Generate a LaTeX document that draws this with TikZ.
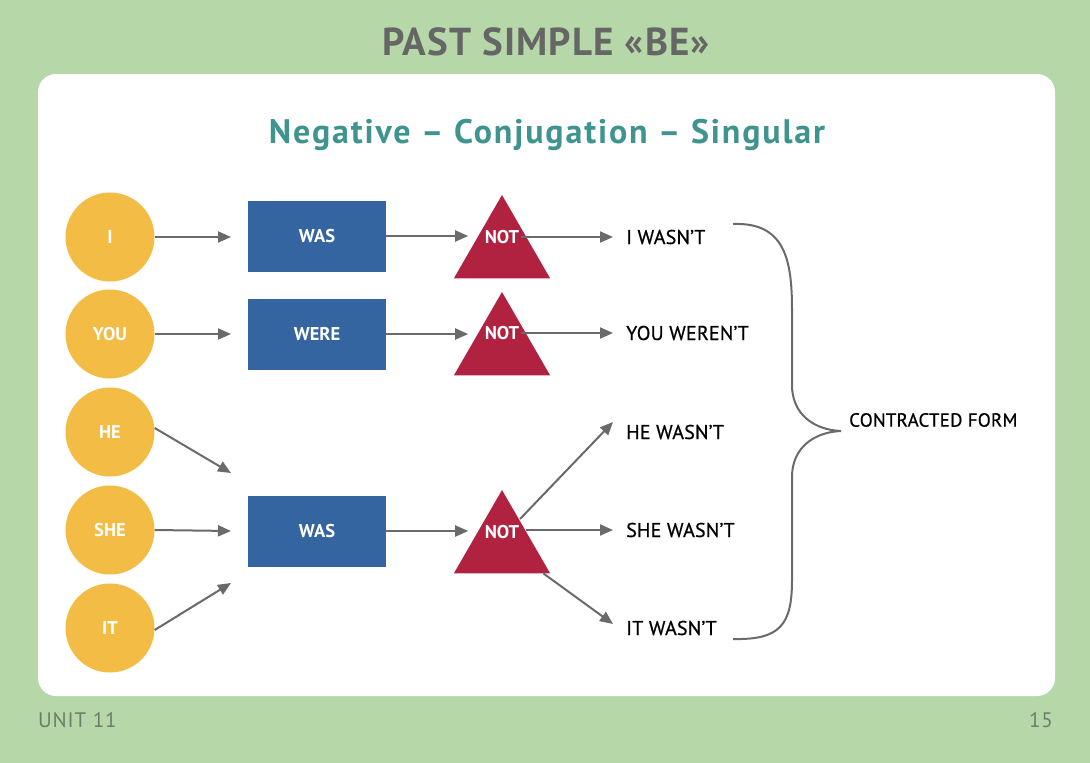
\documentclass[tikz,border=0pt]{standalone}
\usepackage{fontspec}
\setmainfont{PT Sans}
\newfontfamily\titlefont[LetterSpace=3]{PT Sans}
\newfontfamily\subfont[LetterSpace=5.5]{PT Sans}
\newfontfamily\resfont[FakeBold=0.6,LetterSpace=1]{PT Sans}
\newfontfamily\footfont[LetterSpace=4]{PT Sans}
\usetikzlibrary{arrows.meta,shapes.geometric}
\definecolor{bggreen}{HTML}{B6D8A8}
\definecolor{titlegray}{HTML}{666666}
\definecolor{teal}{HTML}{3F9490}
\definecolor{sunyellow}{HTML}{F2BC45}
\definecolor{boxblue}{HTML}{3565A0}
\definecolor{notred}{HTML}{B0223F}
\definecolor{arrgray}{HTML}{6A6A6A}
\definecolor{footgray}{HTML}{6B7E6B}
\tikzset{
  pron/.style={circle,fill=sunyellow,minimum size=89pt,inner sep=0pt,text=white,font=\fontsize{18.5}{20}\selectfont\bfseries},
  verb/.style={rectangle,fill=boxblue,minimum width=138pt,minimum height=71pt,inner sep=0pt,text=white,font=\fontsize{18.5}{20}\selectfont\bfseries},
  tri/.style={regular polygon,regular polygon sides=3,fill=notred,minimum size=111pt,inner sep=0pt},
  nottxt/.style={text=white,font=\fontsize{18.5}{20}\selectfont\bfseries,inner sep=0pt},
  result/.style={anchor=west,text=black,font=\resfont\fontsize{20}{22}\selectfont,inner sep=0pt},
  arr/.style={draw=arrgray,line width=2pt,-{Triangle[length=13pt,width=11pt]}},
  bracel/.style={draw=arrgray,line width=2pt},
}
\begin{document}
\begin{tikzpicture}[x=1pt,y=-1pt]
\useasboundingbox (0,0) rectangle (1090,763);
\fill[bggreen] (0,0) rectangle (1090,763);
\fill[white,rounded corners=18pt] (38,74) rectangle (1055,696);
\node[text=titlegray,font=\titlefont\fontsize{39}{42}\selectfont\bfseries] (title) at (546,42) {PAST SIMPLE «BE»};
\node[text=teal,font=\subfont\fontsize{34}{36}\selectfont\bfseries] (sub) at (547,135) {Negative – Conjugation – Singular};
% pronouns
\node[pron] (pI) at (110,237) {I};
\node[pron] (pYOU) at (110,334) {YOU};
\node[pron] (pHE) at (110,432) {HE};
\node[pron] (pSHE) at (110,530) {SHE};
\node[pron] (pIT) at (110,628) {IT};
% verbs
\node[verb] (v1) at (317,236) {WAS};
\node[verb] (v2) at (317,334) {WERE};
\node[verb] (v3) at (317,531) {WAS};
% triangles
\node[tri] (t1) at (502,250.5) {};
\node[tri] (t2) at (502,347.5) {};
\node[tri] (t3) at (502,545.5) {};
\node[nottxt] (n1) at (502,237) {NOT};
\node[nottxt] (n2) at (502,333) {NOT};
\node[nottxt] (n3) at (502,532) {NOT};
% results
\node[result] (r1) at (626,237) {I WASN’T};
\node[result] (r2) at (626,333) {YOU WEREN’T};
\node[result] (r3) at (626,432) {HE WASN’T};
\node[result] (r4) at (626,530) {SHE WASN’T};
\node[result] (r5) at (626,628) {IT WASN’T};
\node[anchor=west,text=black,font=\resfont\fontsize{19}{21}\selectfont,inner sep=0pt] (cf) at (849,420) {CONTRACTED FORM};
% entry points
\coordinate (e1) at (231,237);
\coordinate (e2) at (231,334);
\coordinate (eHE) at (231,473);
\coordinate (eSHE) at (231,531);
\coordinate (eIT) at (231,583);
% arrows pronoun -> verb
\draw[arr] (pI.east) -- (e1);
\draw[arr] (pYOU.east) -- (e2);
\draw[arr] (pHE.east |- 0,428) -- (eHE);
\draw[arr] (pSHE.east) -- (eSHE);
\draw[arr] (pIT.east |- 0,630) -- (eIT);
% verb -> not
\draw[arr] (v1.east) -- ++(82,0);
\draw[arr] (v2.east) -- ++(82,0);
\draw[arr] (v3.east) -- ++(82,0);
% not -> results
\draw[arr] (n1.east) ++(2,0) -- ([xshift=-13pt]r1.west);
\draw[arr] (n2.east) ++(2,0) -- ([xshift=-13pt]r2.west);
\draw[arr] (520,519) -- ([xshift=-13pt,yshift=10pt]r3.west);
\draw[arr] (526,530) -- ([xshift=-13pt]r4.west);
\draw[arr] (t3.corner 3) ++(-7,0) -- ([xshift=-13pt,yshift=4pt]r5.west);
% brace
\draw[bracel] (733,224) .. controls (785,222) and (792,260) .. (792,310)
  -- (792,385) .. controls (792,415) and (815,430) .. (841,431)
  .. controls (815,432) and (792,447) .. (792,477)
  -- (792,580) .. controls (792,625) and (780,640) .. (733,639);
% footer
\node[anchor=west,text=footgray,font=\footfont\fontsize{21}{22}\selectfont,inner sep=0pt] (unit) at (38,720) {UNIT 11};
\node[anchor=east,text=footgray,font=\footfont\fontsize{21}{22}\selectfont,inner sep=0pt] (page) at (1053,720) {15};
\end{tikzpicture}
\end{document}
